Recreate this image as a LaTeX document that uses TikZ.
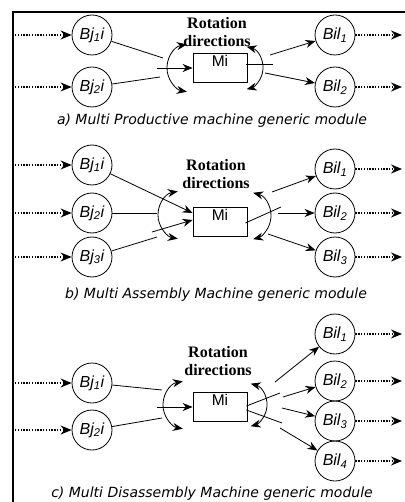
\documentclass[tikz,border=0pt]{standalone}
\usepackage{fontspec}
\setmainfont{Liberation Serif}
\setsansfont{Liberation Sans}
\newfontfamily\capfont{DejaVu Sans}
\usetikzlibrary{arrows.meta}

\tikzstyle{buf} = [draw=black, circle, line width=0.8pt, minimum size=40pt,
    inner sep=0pt, font=\sffamily\itshape\fontsize{16}{18}\selectfont]
\tikzstyle{mach} = [draw=black, rectangle, line width=0.8pt, minimum width=54pt,
    inner ysep=2pt, text height=11pt, text depth=14pt,
    font=\sffamily\fontsize{15.5}{18}\selectfont]
\tikzstyle{rot} = [align=center, font=\bfseries\fontsize{16}{18}\selectfont]
\tikzstyle{captext} = [font=\capfont\itshape\fontsize{14}{16}\selectfont]
\tikzstyle{ln} = [line width=0.8pt]
\tikzstyle{arr} = [line width=0.8pt, -{Stealth[length=10pt,width=8pt]}]
\tikzstyle{dots} = [line width=1.4pt, dash pattern=on 1.4pt off 1.4pt,
    -{Stealth[length=11pt,width=9pt]}]
\tikzstyle{turn} = [line width=0.8pt,
    {Stealth[length=10pt,width=8pt]}-{Stealth[length=10pt,width=8pt]}]

\begin{document}
\begin{tikzpicture}[x=1pt, y=-1pt]
\useasboundingbox (0,0) rectangle (404,502);

\draw[line width=2.5pt] (13,505) -- (13,12) -- (406,12);

% a) productive machine
\node[buf] (Bj1a) at (92,35) {Bj\textsubscript{1}i};
\node[buf] (Bj2a) at (92,87) {Bj\textsubscript{2}i};
\node[mach] (Ma) at (220,68) {Mi};
\node[buf] (Bil1a) at (335,35) {Bil\textsubscript{1}};
\node[buf] (Bil2a) at (335,87) {Bil\textsubscript{2}};
\node[rot] (Ra) at (217,32) {Rotation\\directions};
\node[captext] (Ca) at (212,121) {a) Multi Productive machine generic module};

\coordinate (ia1) at (15,35);
\coordinate (ia2) at (15,87);
\coordinate (oa1) at (402,35);
\coordinate (oa2) at (402,87);
\draw[dots] (ia1) -- (Bj1a);
\draw[dots] (ia2) -- (Bj2a);
\draw[dots] (Bil1a) -- (oa1);
\draw[dots] (Bil2a) -- (oa2);

\coordinate (a1) at (163,58);
\coordinate (a2) at (160,77);
\coordinate (a3) at (157,68);
\coordinate (a4) at (273,64);
\coordinate (a5) at (270,55);
\coordinate (a6) at (265,73);
\draw[ln] (Bj1a) -- (a1);
\draw[ln] (Bj2a) -- (a2);
\draw[arr] (a3) -- (Ma);
\draw[ln] ([xshift=-1pt,yshift=4pt]Ma.east) -- (a4);
\draw[arr] (a5) -- (Bil1a);
\draw[arr] (a6) -- (Bil2a);

\draw[turn] (186.8,44.4) arc[start angle=-100, end angle=-260, radius=24];
\draw[turn] (246.7,46.7) arc[start angle=-75, end angle=75, radius=22];

% b) assembly machine
\node[buf] (Bj1b) at (92,165) {Bj\textsubscript{1}i};
\node[buf] (Bj2b) at (92,213) {Bj\textsubscript{2}i};
\node[buf] (Bj3b) at (92,257) {Bj\textsubscript{3}i};
\node[mach] (Mb) at (220,222) {Mi};
\node[buf] (Bil1b) at (335,169) {Bil\textsubscript{1}};
\node[buf] (Bil2b) at (335,213) {Bil\textsubscript{2}};
\node[buf] (Bil3b) at (335,257) {Bil\textsubscript{3}};
\node[rot] (Rb) at (216,174) {Rotation\\directions};
\node[captext] (Cb) at (216,295) {b) Multi Assembly Machine generic module};

\coordinate (ib1) at (15,165);
\coordinate (ib2) at (15,213);
\coordinate (ib3) at (15,257);
\coordinate (ob1) at (402,169);
\coordinate (ob2) at (402,213);
\coordinate (ob3) at (402,257);
\draw[dots] (ib1) -- (Bj1b);
\draw[dots] (ib2) -- (Bj2b);
\draw[dots] (ib3) -- (Bj3b);
\draw[dots] (Bil1b) -- (ob1);
\draw[dots] (Bil2b) -- (ob2);
\draw[dots] (Bil3b) -- (ob3);

\coordinate (b2) at (157,213);
\coordinate (b3) at (152,232);
\coordinate (b4) at (157,237);
\coordinate (b5) at (281,207);
\coordinate (b6) at (272,192);
\coordinate (b7) at (278,213);
\coordinate (b8) at (268,234);
\draw[arr] (Bj1b) -- ([yshift=9pt]Mb.west);
\draw[ln] (Bj2b) -- (b2);
\draw[arr] (b3) -- ([yshift=2pt]Mb.west);
\draw[ln] (Bj3b) -- (b4);
\draw[ln] ([xshift=-2pt,yshift=-1pt]Mb.east) -- (b5);
\draw[arr] (b6) -- (Bil1b);
\draw[arr] (b7) -- (Bil2b);
\draw[arr] (b8) -- (Bil3b);

\draw[turn] (177.8,191.4) arc[start angle=-100, end angle=-260, radius=24];
\draw[turn] (253.2,192.8) arc[start angle=-75, end angle=75, radius=24];

% c) disassembly machine
\node[buf] (Bj1c) at (92,383) {Bj\textsubscript{1}i};
\node[buf] (Bj2c) at (92,430) {Bj\textsubscript{2}i};
\node[mach] (Mc) at (220,407) {Mi};
\node[buf] (Bil1c) at (335,334) {Bil\textsubscript{1}};
\node[buf] (Bil2c) at (335,381) {Bil\textsubscript{2}};
\node[buf] (Bil3c) at (335,421) {Bil\textsubscript{3}};
\node[buf] (Bil4c) at (335,461) {Bil\textsubscript{4}};
\node[rot] (Rc) at (218,361) {Rotation\\directions};
\node[captext] (Cc) at (212,494) {c) Multi Disassembly Machine generic module};

\coordinate (ic1) at (15,383);
\coordinate (ic2) at (15,430);
\coordinate (oc1) at (402,334);
\coordinate (oc2) at (402,381);
\coordinate (oc3) at (402,421);
\coordinate (oc4) at (402,461);
\draw[dots] (ic1) -- (Bj1c);
\draw[dots] (ic2) -- (Bj2c);
\draw[dots] (Bil1c) -- (oc1);
\draw[dots] (Bil2c) -- (oc2);
\draw[dots] (Bil3c) -- (oc3);
\draw[dots] (Bil4c) -- (oc4);

\coordinate (c1) at (162,390);
\coordinate (c2) at (162,418);
\coordinate (c3) at (157,407);
\coordinate (c4) at (280,393);
\coordinate (c5) at (282,423);
\coordinate (c6) at (275,382);
\coordinate (c7) at (283,397);
\coordinate (c8) at (282,408);
\coordinate (c9) at (280,428);
\draw[ln] (Bj1c) -- (c1);
\draw[ln] (Bj2c) -- (c2);
\draw[arr] (c3) -- (Mc);
\draw[ln] ([xshift=-1pt,yshift=1pt]Mc.east) -- (c4);
\draw[ln] ([xshift=-1pt,yshift=-3pt]Mc.east) -- (c5);
\draw[arr] (c6) -- (Bil1c);
\draw[arr] (c7) -- (Bil2c);
\draw[arr] (c8) -- (Bil3c);
\draw[arr] (c9) -- (Bil4c);

\draw[turn] (182.8,381.4) arc[start angle=-100, end angle=-260, radius=24];
\draw[turn] (250.7,383.7) arc[start angle=-75, end angle=75, radius=22];

\end{tikzpicture}
\end{document}
